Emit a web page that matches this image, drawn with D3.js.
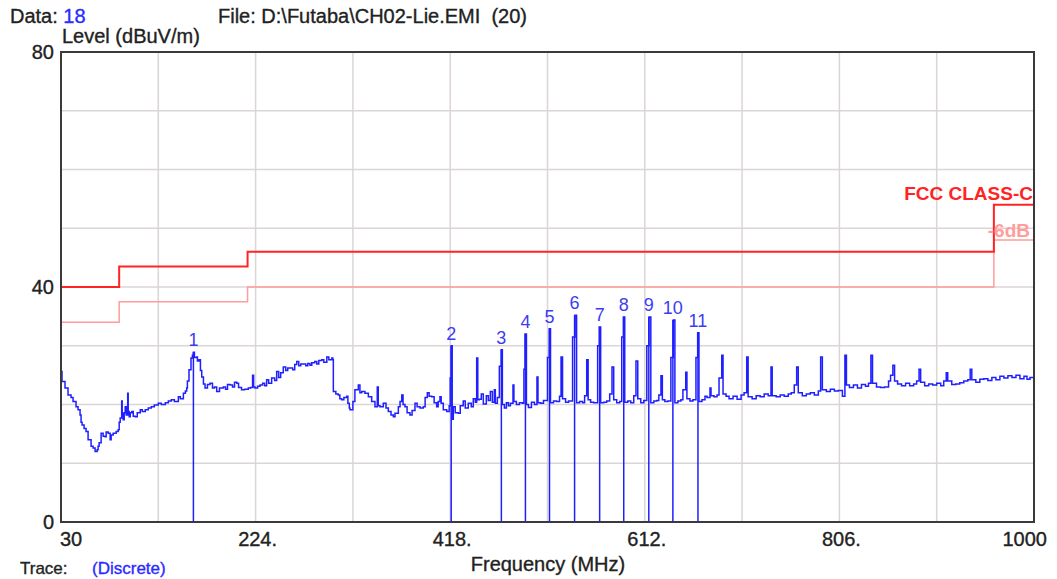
<!DOCTYPE html>
<html lang="en">
<title>EMI scan - CH02-Lie</title>
<meta charset="UTF-8">
<script src="https://d3js.org/d3.v7.min.js"></script>
<style>
body { margin: 0; background: #fff; }
text { font-family: "Liberation Sans", Arial, sans-serif; }
.dark { stroke: #222; stroke-width: 0.35px; }
</style>
<body>
<div id="my_dataviz"></div>
<script>

// ---- data ----
var xTicks = [30, 224, 418, 612, 806, 1000];
var xTickLabels = ["30", "224.", "418.", "612.", "806.", "1000"];
var yTicks = [0, 40, 80];

// FCC class limit and the -6dB margin (step after each frequency)
var limitFreq = [30, 88, 216, 960, 1000];
var limitLevel = [40, 43.5, 46, 54, 54];
var marginLevel = [34, 37.5, 40, 48, 48];

// marker (discrete) readings
var markerFreq = [162, 419, 469, 493, 517, 542, 567, 591, 616, 640, 665];
var markerLevel = [28.9, 30.0, 29.3, 32.0, 32.9, 35.2, 33.2, 34.9, 34.9, 34.4, 32.2];

// measured trace [MHz, dBuV/m]
var trace = [
  [30,25.6],[31,23.9],[34,22.8],[37,21.6],[40,21.2],[42,20.5],[45,19.6],[47,19.1],[49,18.2],[50,17.0],
  [51,16.5],[53,15.9],[55,15.4],[57,14.0],[60,12.9],[62,12.6],[64,12.0],[66,12.3],[67,12.9],[68,13.5],
  [70,15.1],[72,14.6],[74,14.5],[75,15.3],[77,15.1],[79,14.0],[80,14.8],[82,15.1],[85,15.4],[87,15.7],
  [88,17.0],[89,17.7],[90.5,20.6],[91,18.5],[92,17.4],[93,18.6],[94,19.6],[95,18.2],[96.5,21.9],[97,18.8],
  [98,17.9],[99,18.6],[100.5,18.8],[102,18.0],[104,17.9],[106,18.6],[109,19.1],[111,18.8],[114,19.1],[117,19.4],
  [120,19.6],[123,19.9],[127,20.2],[130,20.0],[134,20.3],[137,20.6],[140,20.8],[143,20.5],[147,21.3],[149,21.0],
  [152,21.9],[154,22.3],[155.3,22.8],[156,24.0],[157.6,25.9],[159.6,27.9],[161,28.4],[162,28.9],[163,28.0],[165,28.1],
  [166,27.4],[167.6,27.6],[169,25.8],[170.3,24.7],[172,23.5],[173.6,22.8],[176,23.4],[178.5,23.6],[181,22.8],[183,23.0],
  [185.2,22.2],[188,22.8],[191.8,23.0],[194,22.6],[196,23.4],[198.5,23.3],[201,23.0],[203,23.8],[205.2,23.6],[207,22.9],
  [210,22.5],[213,22.6],[216.7,22.8],[219,22.9],[221,25.0],[222,23.0],[223.4,22.8],[226,23.1],[228.4,23.3],[231,23.6],
  [233,23.2],[235,24.2],[237,23.6],[240,24.5],[243,24.1],[245,25.6],[247,24.6],[249,25.4],[251.6,26.4],[254,25.8],
  [256,26.2],[258.3,26.2],[261,25.9],[263,26.8],[265,27.3],[267,26.6],[269,26.9],[271.6,26.9],[274,26.6],[276,27.0],
  [278.2,26.7],[280,27.1],[283,27.3],[285,26.9],[287,27.5],[290,27.6],[292,27.2],[295,28.1],[297,27.6],[300,27.9],
  [301,27.6],[301.5,22.2],[304,21.8],[306.4,21.6],[308,21.0],[309.8,20.8],[312,21.2],[314.8,21.4],[316,20.2],[317.4,19.4],
  [318.1,19.1],[321,20.5],[323,22.5],[326.4,23.3],[328,22.0],[329.8,22.2],[333,21.9],[336.4,21.3],[339.7,20.5],[343,19.6],
  [345.3,23.0],[346.3,19.8],[348,19.6],[351.3,20.2],[354,19.4],[356.3,18.8],[359,18.2],[361.3,17.9],[363,18.5],[366.3,19.6],
  [368,20.5],[369.7,21.6],[371,20.0],[372.9,19.6],[375,18.6],[377.9,18.2],[380,19.0],[382.9,20.2],[385,19.6],[387.9,19.4],
  [391.2,19.6],[393,21.2],[395.2,22.0],[397,21.4],[399.6,21.3],[402,20.3],[404.5,19.6],[406,20.5],[407.8,21.3],[409,20.2],
  [411.1,19.1],[414.5,18.8],[417,19.8],[418,24.5],[419,30.0],[420,17.5],[421.1,19.6],[423,18.6],[426.1,18.5],[428,19.8],
  [431,20.6],[433,19.4],[436,20.2],[439,19.6],[441,21.0],[443,20.4],[444.4,27.9],[445.5,20.8],[447,20.9],[449,21.8],
  [451,20.1],[454,21.5],[456,20.7],[458,22.2],[460,20.4],[462,22.5],[463,20.2],[465,21.2],[467,26.5],[468.9,29.3],
  [470,20.0],[472,19.4],[474,20.3],[476,19.8],[478,20.2],[480.6,23.3],[481.5,20.5],[484,20.0],[487,20.3],[490,20.2],
  [491.5,26.0],[492.6,32.0],[494,20.0],[496,19.5],[499,20.4],[502,20.0],[504.5,24.7],[505.5,20.3],[508,20.2],[511,20.7],
  [515,28.0],[516.8,32.9],[518,20.3],[521,20.6],[524,20.5],[527,21.4],[528.5,28.1],[530,21.0],[533,20.4],[536,20.6],
  [540,31.5],[542.4,35.2],[544,20.3],[547,20.5],[550,20.3],[552,21.5],[554.1,27.6],[555.5,20.8],[558,20.4],[561,20.3],
  [565,30.0],[566.6,33.2],[568,20.3],[571,20.4],[574,20.6],[577,21.8],[579.3,26.4],[581,20.8],[584,20.3],[587,20.5],
  [589,31.5],[590.6,34.9],[592,20.4],[595,20.6],[598,20.3],[601,21.5],[603.2,27.4],[605,21.0],[608,20.3],[611,20.7],
  [614,30.0],[616.2,34.9],[618,20.3],[621,20.6],[624,20.7],[626,21.6],[628.1,24.9],[629.5,20.8],[632,20.5],[635,20.6],
  [638,28.0],[640.4,34.4],[642,20.3],[645,20.6],[648,20.8],[650,22.5],[652.8,25.5],[654,21.0],[657,20.6],[660,20.8],
  [663,28.0],[664.7,32.2],[666,20.5],[669,20.8],[672,21.4],[674,21.2],[677,22.8],[678,21.5],[681,21.3],[684,21.6],
  [686,24.5],[688.7,28.4],[690,21.8],[693,21.4],[696,21.0],[700,21.4],[704,20.9],[708,21.6],[711,22.0],[713.6,28.1],
  [715,21.3],[719,21.0],[723,21.5],[727,21.3],[731,21.8],[735,21.5],[737.8,26.4],[739,21.5],[743,21.3],[747,21.6],
  [751,21.4],[755,21.8],[758,22.0],[761,23.3],[763.4,26.4],[765,22.0],[769,21.5],[773,21.8],[777,22.0],[781,21.6],
  [785,22.3],[787.3,28.1],[789,22.5],[793,22.2],[797,22.6],[801,22.3],[805,22.4],[809,21.4],[811.5,28.4],[813,23.3],
  [816,22.9],[820,23.3],[824,22.8],[828,23.4],[832,23.1],[835,23.6],[837.4,28.4],[839,23.6],[843,23.0],[847,22.9],
  [851,23.0],[855,24.0],[857,25.0],[859.3,26.7],[861,24.0],[864,23.5],[868,23.2],[872,23.6],[876,23.2],[880,23.5],
  [883,24.0],[885.4,26.0],[887,23.8],[891,23.2],[895,23.5],[899,23.3],[903,23.6],[907,23.2],[910,24.0],[912.5,25.4],
  [914,24.0],[918,23.4],[922,23.5],[926,23.7],[930,24.0],[934,24.2],[936.4,26.0],[938,24.2],[942,23.8],[946,24.3],
  [950,24.4],[954,24.1],[958,24.6],[962,24.2],[966,24.8],[970,24.5],[974,24.9],[978,24.6],[982,25.0],[986,24.4],
  [990,24.8],[993,24.3],[996,24.6],[1000,24.2]
];

// ---- layout ----
var W = 1057, H = 579;
var plot = {left: 61, right: 1034, top: 52, bottom: 522};
var textColor = "#222";
var blue = "#1f1fff";

var svg = d3.select("#my_dataviz")
  .append("svg")
    .attr("width", W)
    .attr("height", H);

svg.append("rect").attr("width", W).attr("height", H).attr("fill", "#fff");

var x = d3.scaleLinear().domain([30, 1000]).range([plot.left, plot.right]);
var y = d3.scaleLinear().domain([0, 80]).range([plot.bottom, plot.top]);

// grid: 10 frequency divisions, 10 dB rows
var grid = svg.append("g").attr("stroke", "#dcd5d5").attr("stroke-width", 1.5);
grid.selectAll(".vg")
  .data(d3.range(1, 10).map(function(i) { return 30 + i * 97; }))
  .enter().append("line")
    .attr("x1", function(d) { return x(d); })
    .attr("x2", function(d) { return x(d); })
    .attr("y1", plot.top).attr("y2", plot.bottom);
grid.selectAll(".hg")
  .data(d3.range(10, 80, 10))
  .enter().append("line")
    .attr("y1", function(d) { return y(d); })
    .attr("y2", function(d) { return y(d); })
    .attr("x1", plot.left).attr("x2", plot.right);

// limit lines
var stepLine = function(levels) {
  return d3.line()
    .curve(d3.curveStepAfter)
    .x(function(d, i) { return x(limitFreq[i]); })
    .y(function(d, i) { return y(levels[i]); });
};
svg.append("path")
  .datum(marginLevel)
  .attr("fill", "none")
  .attr("stroke", "#ff9c9c")
  .attr("stroke-width", 1.5)
  .attr("d", stepLine(marginLevel));
svg.append("path")
  .datum(limitLevel)
  .attr("fill", "none")
  .attr("stroke", "#ff2424")
  .attr("stroke-width", 2)
  .attr("d", stepLine(limitLevel));

// trace
svg.append("path")
  .datum(trace)
  .attr("fill", "none")
  .attr("stroke", blue)
  .attr("stroke-width", 1.5)
  .attr("d", d3.line()
    .curve(d3.curveStepAfter)
    .x(function(d) { return x(d[0]); })
    .y(function(d) { return y(d[1]); }));

// discrete markers
var markers = svg.append("g");
markers.selectAll("line")
  .data(markerFreq)
  .enter().append("line")
    .attr("x1", function(d) { return x(d); })
    .attr("x2", function(d) { return x(d); })
    .attr("y1", y(0))
    .attr("y2", function(d, i) { return y(markerLevel[i]); })
    .attr("stroke", blue)
    .attr("stroke-width", 1.5);
markers.selectAll("text")
  .data(markerFreq)
  .enter().append("text")
    .attr("x", function(d) { return x(d); })
    .attr("y", function(d, i) { return y(markerLevel[i]) - 6; })
    .attr("text-anchor", "middle")
    .attr("font-size", 18)
    .attr("fill", "#3c3cf5")
    .text(function(d, i) { return i + 1; });

// frame
svg.append("rect")
  .attr("x", plot.left).attr("y", plot.top)
  .attr("width", plot.right - plot.left)
  .attr("height", plot.bottom - plot.top)
  .attr("fill", "none")
  .attr("stroke", "#3a3a3a")
  .attr("stroke-width", 2);

// limit labels
svg.append("text")
  .attr("x", 1033).attr("y", 200)
  .attr("text-anchor", "end")
  .attr("font-size", 19).attr("font-weight", "bold")
  .attr("fill", "#ff2424")
  .text("FCC CLASS-C");
svg.append("text")
  .attr("x", 1030).attr("y", 237)
  .attr("text-anchor", "end")
  .attr("font-size", 19).attr("font-weight", "bold")
  .attr("fill", "#ff9c9c")
  .text("-6dB");

// y tick labels
svg.selectAll(".ytick")
  .data(yTicks)
  .enter().append("text")
    .attr("class", "dark")
    .attr("x", 54)
    .attr("y", function(d) { return y(d) + 7; })
    .attr("text-anchor", "end")
    .attr("font-size", 20)
    .attr("fill", textColor)
    .text(function(d) { return d; });

// x tick labels
svg.selectAll(".xtick")
  .data(xTicks)
  .enter().append("text")
    .attr("class", "dark")
    .attr("x", function(d, i) {
      if (i === 0) return plot.left - 1;
      if (i === xTicks.length - 1) return 1047;
      return x(d) + 2;
    })
    .attr("y", 546)
    .attr("text-anchor", function(d, i) {
      return i === 0 ? "start" : (i === xTicks.length - 1 ? "end" : "middle");
    })
    .attr("font-size", 20)
    .attr("fill", textColor)
    .text(function(d, i) { return xTickLabels[i]; });

// titles
svg.append("text")
  .attr("class", "dark")
  .attr("x", (467 + 629) / 2).attr("y", 571)
  .attr("text-anchor", "middle")
  .attr("font-size", 20)
  .attr("fill", textColor)
  .text("Frequency (MHz)");

svg.append("text")
  .attr("class", "dark")
  .attr("x", 62).attr("y", 43)
  .attr("font-size", 20)
  .attr("fill", textColor)
  .text("Level (dBuV/m)");

var hdr = svg.append("text").attr("class", "dark").attr("x", 10).attr("y", 23).attr("font-size", 20).attr("fill", textColor);
hdr.append("tspan").text("Data: ");
hdr.append("tspan").attr("fill", "#2a2aff").attr("stroke", "#2a2aff").text("18");

svg.append("text")
  .attr("class", "dark")
  .attr("x", 218).attr("y", 23)
  .attr("font-size", 20)
  .attr("fill", textColor)
  .style("white-space", "pre")
  .text("File: D:\\Futaba\\CH02-Lie.EMI  (20)");

// status line at the bottom edge
var trc = svg.append("text").attr("class", "dark").attr("x", 20).attr("y", 574).attr("font-size", 17).attr("fill", textColor);
trc.append("tspan").text("Trace:");
trc.append("tspan").attr("x", 92).attr("fill", "#2a2aff").attr("stroke", "#2a2aff").text("(Discrete)");

</script>
</body>
</html>
